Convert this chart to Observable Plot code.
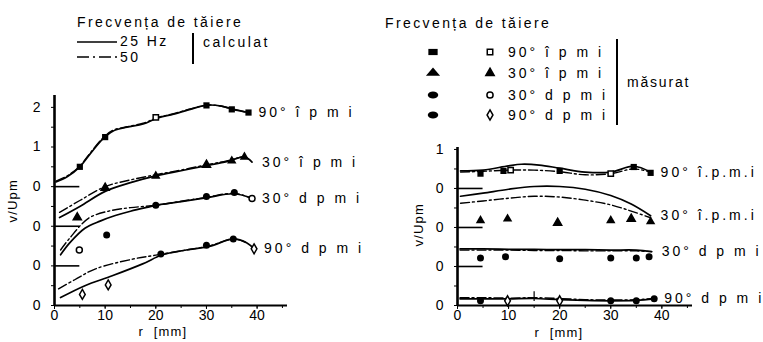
<!DOCTYPE html>
<html><head><meta charset="utf-8">
<script src="https://cdn.jsdelivr.net/npm/d3@7"></script>
<script src="https://cdn.jsdelivr.net/npm/@observablehq/plot@0.6"></script>
<style>
body{margin:0;background:#fff;}
#root{position:relative;width:763px;height:342px;overflow:hidden;background:#fff;font-family:"Liberation Sans",Arial,sans-serif;}
#root svg{position:absolute;top:0;}
</style></head><body><div id="root"></div>
<script>
// ---------- data ----------
const namesLeft  = ["90° î p m i", "30° î p m i", "30° d p m i", "90° d p m i"];
const namesRight = ["90° î.p.m.i", "30° î.p.m.i", "30° d p m i", "90° d p m i"];
const baselines = [0, -1, -2, -3];           // stacked curve offsets (v/Upm units)
const yTicksLeft = [-3, -2, -1, 0, 1, 2];
const yTickLabelsLeft = ["0", "0", "0", "0", "1", "2"];
const yTicksRight = [-3, -2, -1, 0, 1];
const yTickLabelsRight = ["0", "0", "0", "0", "1"];
const xTicks = [0, 10, 20, 30, 40];

// [r (mm), v/Upm] per curve: 90° îpmi, 30° îpmi, 30° dpmi, 90° dpmi
const leftCalc25 = [
  [[0.3,0.12],[2.5,0.25],[5,0.5],[7,0.82],[9.5,1.2],[11.5,1.4],[14.3,1.5],[17.5,1.58],[20.3,1.73],[23.5,1.83],[26.8,1.95],[29,2.03],[30.5,2.06],[33,2.03],[35.3,1.95],[38.3,1.87]],
  [[1,0.22],[5,0.5],[10,0.88],[15,1.1],[20,1.27],[25,1.4],[30,1.53],[34,1.63],[37.5,1.75],[39,1.62]],
  [[1.2,0.28],[3,0.58],[6,0.95],[9,1.13],[12,1.27],[15,1.38],[18,1.47],[21,1.55],[25,1.62],[30,1.72],[35.5,1.82],[39,1.7]],
  [[1.2,0.2],[6,0.5],[11.4,0.75],[17.4,1.05],[21.3,1.28],[26,1.4],[30.8,1.5],[35.3,1.68],[38,1.58],[39.4,1.43]]
];
const leftCalc50 = [
  [[0.3,0.14],[2.5,0.27],[5,0.52],[7,0.84],[9.5,1.22],[11.5,1.42],[14.3,1.51],[17.5,1.6],[20.3,1.74],[23.5,1.84],[26.8,1.96],[29,2.03],[30.5,2.06],[33,2.03],[35.3,1.95],[38.3,1.87]],
  [[1,0.35],[5,0.65],[10,1.0],[15,1.17],[20,1.3],[25,1.42],[30,1.55],[34,1.65],[37.5,1.77]],
  [[1.2,0.4],[3,0.7],[6.7,1.2],[10.6,1.38],[15,1.47],[20,1.53],[25,1.63],[30,1.73],[35.5,1.83],[39,1.7]],
  [[0.8,0.42],[4,0.65],[8,0.92],[15.4,1.17],[20,1.27],[26,1.4],[30.8,1.51],[35.3,1.68],[38,1.58]]
];
const leftMeas25 = [
  [[5,0.5],[10,1.25],[30,2.05],[35,1.95],[38.3,1.87]],
  [[20,1.27],[35,1.65],[37.5,1.75]],
  [[10.3,0.78],[20,1.53],[30,1.75],[35.5,1.85]],
  [[21,1.3],[30,1.52],[35.3,1.68]]
];
const leftMeas50 = [
  [[20,1.75]],
  [[4.5,0.22],[10,0.97],[30,1.55]],
  [[4.9,0.4],[39,1.7]],
  [[5.5,0.28],[10.6,0.52],[39.4,1.43]]
];

const rightCalc25 = [
  [[0.6,0.45],[5,0.47],[10,0.58],[12.5,0.62],[16,0.6],[20,0.52],[25,0.42],[30,0.42],[34.5,0.57],[37.8,0.42]],
  [[0.6,0.8],[5,0.88],[10,0.98],[15,1.05],[20,1.05],[25,0.98],[30,0.82],[34,0.6],[37.8,0.3]],
  [[0.5,0.45],[5,0.45],[10,0.44],[15,0.44],[20,0.43],[25,0.43],[30,0.42],[35,0.42],[38,0.38]],
  [[0.5,0.17],[5,0.17],[10,0.17],[15,0.18],[20,0.15],[25,0.13],[30,0.12],[35,0.13],[38.5,0.17]]
];
const rightCalc50 = [
  [[0.6,0.42],[5,0.44],[10,0.47],[15,0.47],[20,0.43],[25,0.35],[30,0.38],[34.5,0.5],[37.8,0.42]],
  [[0.6,0.62],[5,0.68],[10,0.75],[15,0.8],[20,0.78],[25,0.7],[30,0.58],[34,0.42],[37.8,0.25]],
  [[0.5,0.42],[5,0.42],[10,0.42],[15,0.41],[20,0.41],[25,0.4],[30,0.4],[35,0.4],[38,0.38]],
  [[0.5,0.2],[5,0.2],[10,0.19],[15,0.2],[20,0.18],[25,0.15],[30,0.14],[35,0.15],[38.5,0.18]]
];
const rightMeas25 = [
  [[4.5,0.38],[9,0.45],[20,0.45],[34.5,0.55],[37.8,0.4]],
  [[4.5,0.18],[9.8,0.22],[30,0.18],[37.8,0.15]],
  [[4.5,0.22],[9.4,0.25],[20,0.2],[30,0.22],[35,0.22],[37.5,0.25]],
  [[4.5,0.12],[30,0.12],[35,0.12],[38.5,0.17]]
];
const rightMeas50 = [
  [[10.4,0.47],[30,0.38]],
  [[19.6,0.12],[34,0.22]],
  [],
  [[9.8,0.12],[20,0.12]]
];
const rightErr = [[15, 0.1, 0.35]]; // r, v low, v high (90° dpmi)

// ---------- styles ----------
const FONT = '"Liberation Sans", Arial, sans-serif';
const filledSym = ["square", "triangle", "circle", "circle"];
const openSym = ["square", "triangle", "circle", "diamond"];
const openFill = ["white", "black", "white", "white"];

function makePanel(cfg) {
  const rows = arr => arr.flatMap((pts, i) => pts.map(([r, v]) => ({s: i, r, y: v + baselines[i]})));
  const ends = cfg.calc25.map((pts, i) => {
    const [r, v] = pts[pts.length - 1];
    return {r, y: v + baselines[i], name: cfg.names[i]};
  });
  const [y0, y1] = cfg.yDomain;
  const minor = d3.range(y0, y1 + 0.001, 0.5);
  const marks = [
    Plot.ruleY(baselines.slice(0, 3), {x1: 0, x2: 5, strokeWidth: 1.6}),
    Plot.line(rows(cfg.calc50), {x: "r", y: "y", z: "s", curve: "catmull-rom", strokeDasharray: "9,3,2,3", strokeWidth: 1.4}),
    Plot.line(rows(cfg.calc25), {x: "r", y: "y", z: "s", curve: "catmull-rom", strokeWidth: 1.7}),
    ...cfg.meas25.map((pts, i) => Plot.dot(pts, {x: d => d[0], y: d => d[1] + baselines[i], symbol: filledSym[i], fill: "black", r: 3.5})),
    ...cfg.meas50.map((pts, i) => Plot.dot(pts, {x: d => d[0], y: d => d[1] + baselines[i], symbol: openSym[i], fill: openFill[i], stroke: "black", strokeWidth: 1.5, r: 3})),
    ...(cfg.extra || []),
    Plot.text(ends, {x: "r", y: "y", text: "name", dx: 10, textAnchor: "start", fontSize: 14}),
    Plot.ruleX([0], {y1: y0, y2: y1, strokeWidth: 2.6}),
    Plot.ruleY([y0], {x1: 0, x2: 46, strokeWidth: 2.2}),
    Plot.axisY({ticks: minor, tickSize: 3, tickFormat: () => "", label: null}),
    Plot.axisY({ticks: cfg.yTicks, tickSize: 0, tickPadding: 14, fontSize: 14,
      tickFormat: d => cfg.yTickLabels[cfg.yTicks.indexOf(d)], label: null}),
    Plot.axisX({ticks: d3.range(0, 46, 5), tickSize: 3, tickFormat: () => "", label: null}),
    Plot.axisX({ticks: xTicks, tickSize: 4, tickPadding: 1, fontSize: 14, label: null}),
    Plot.text(["r  [mm]"], {frameAnchor: "bottom", dx: cfg.xLabelDx, dy: cfg.xLabelDy, fontSize: 13}),
    Plot.text(["v/Upm"], {frameAnchor: "left", dx: cfg.yLabelDx, dy: cfg.yLabelDy, rotate: -90, fontSize: 13})
  ];
  const svg = Plot.plot({
    width: cfg.width, height: 342,
    marginLeft: cfg.marginLeft, marginRight: cfg.marginRight, marginTop: cfg.marginTop, marginBottom: 37,
    x: {domain: [0, 46], label: null},
    y: {domain: cfg.yDomain, label: null},
    style: {fontFamily: FONT, fontSize: "14px", color: "black", background: "transparent"},
    marks
  });
  svg.style.left = cfg.left + "px";
  d3.select(svg).selectAll("text").filter(function () {
    return cfg.names.includes(this.textContent);
  }).attr("letter-spacing", 3);
  d3.select(svg).selectAll("text").filter(function () {
    return this.textContent === "r  [mm]" || this.textContent === "v/Upm";
  }).attr("letter-spacing", 1.2);
  return svg;
}

const root = document.getElementById("root");
root.appendChild(makePanel({
  names: namesLeft, calc25: leftCalc25, calc50: leftCalc50, meas25: leftMeas25, meas50: leftMeas50,
  yDomain: [-3, 2.3], yTicks: yTicksLeft, yTickLabels: yTickLabelsLeft,
  width: 380, left: 0, marginLeft: 54, marginRight: 93, marginTop: 95,
  xLabelDx: -8, xLabelDy: 30, yLabelDx: -42, yLabelDy: 22
}));
root.appendChild(makePanel({
  names: namesRight, calc25: rightCalc25, calc50: rightCalc50, meas25: rightMeas25, meas50: rightMeas50,
  yDomain: [-3, 1.05], yTicks: yTicksRight, yTickLabels: yTickLabelsRight,
  width: 383, left: 380, marginLeft: 77, marginRight: 71, marginTop: 147,
  xLabelDx: -16, xLabelDy: 31, yLabelDx: -39, yLabelDy: 20,
  extra: [Plot.ruleX(rightErr, {x: d => d[0], y1: d => d[1] + baselines[3], y2: d => d[2] + baselines[3], strokeWidth: 1.2})]
}));

// ---------- legends ----------
const legTitle = "Frecvența de tăiere";
const legCalcLabels = ["25 Hz", "50"];
const legCalcWord = "calculat";
const legMeasWord = "măsurat";
const namesLegend = ["90° î p m i", "30° î p m i", "30° d p m i", "90° d p m i"];

const leg = d3.select(root).append("svg").attr("width", 763).attr("height", 342)
  .style("left", "0px").style("pointer-events", "none")
  .attr("font-family", FONT).attr("font-size", 14).attr("fill", "black");
function txt(x, y, s, ls) {
  leg.append("text").attr("x", x).attr("y", y).attr("dy", "0.35em").attr("letter-spacing", ls).text(s);
}
// left legend
txt(77, 22, legTitle, 2.4);
leg.append("line").attr("x1", 77).attr("x2", 117).attr("y1", 42).attr("y2", 42).attr("stroke", "black").attr("stroke-width", 1.6);
leg.append("line").attr("x1", 77).attr("x2", 117).attr("y1", 57).attr("y2", 57).attr("stroke", "black").attr("stroke-width", 1.6).attr("stroke-dasharray", "12,4,2,4");
txt(120, 41, legCalcLabels[0], 2.4);
txt(120, 57, legCalcLabels[1], 2.4);
leg.append("rect").attr("x", 192).attr("y", 33).attr("width", 2).attr("height", 31);
txt(203, 42, legCalcWord, 2.4);
// right legend
txt(385, 23, legTitle, 2.4);
const rowsY = [52, 73, 95, 115];
const sym = (name, size) => d3.symbol().type({square: d3.symbolSquare, triangle: d3.symbolTriangle, circle: d3.symbolCircle, diamond: d3.symbolDiamond}[name]).size(size)();
namesLegend.forEach((n, i) => {
  leg.append("path").attr("d", sym(filledSym[i], 60)).attr("transform", `translate(433,${rowsY[i]}) scale(1.2,0.8)`).attr("fill", "black");
  leg.append("path").attr("d", sym(openSym[i], 30)).attr("transform", `translate(490,${rowsY[i]})`)
    .attr("fill", openFill[i]).attr("stroke", "black").attr("stroke-width", 1.5);
  txt(508, rowsY[i], n, 3);
});
leg.append("rect").attr("x", 616).attr("y", 39).attr("width", 2).attr("height", 86);
txt(627, 82, legMeasWord, 1.8);
</script></body></html>
